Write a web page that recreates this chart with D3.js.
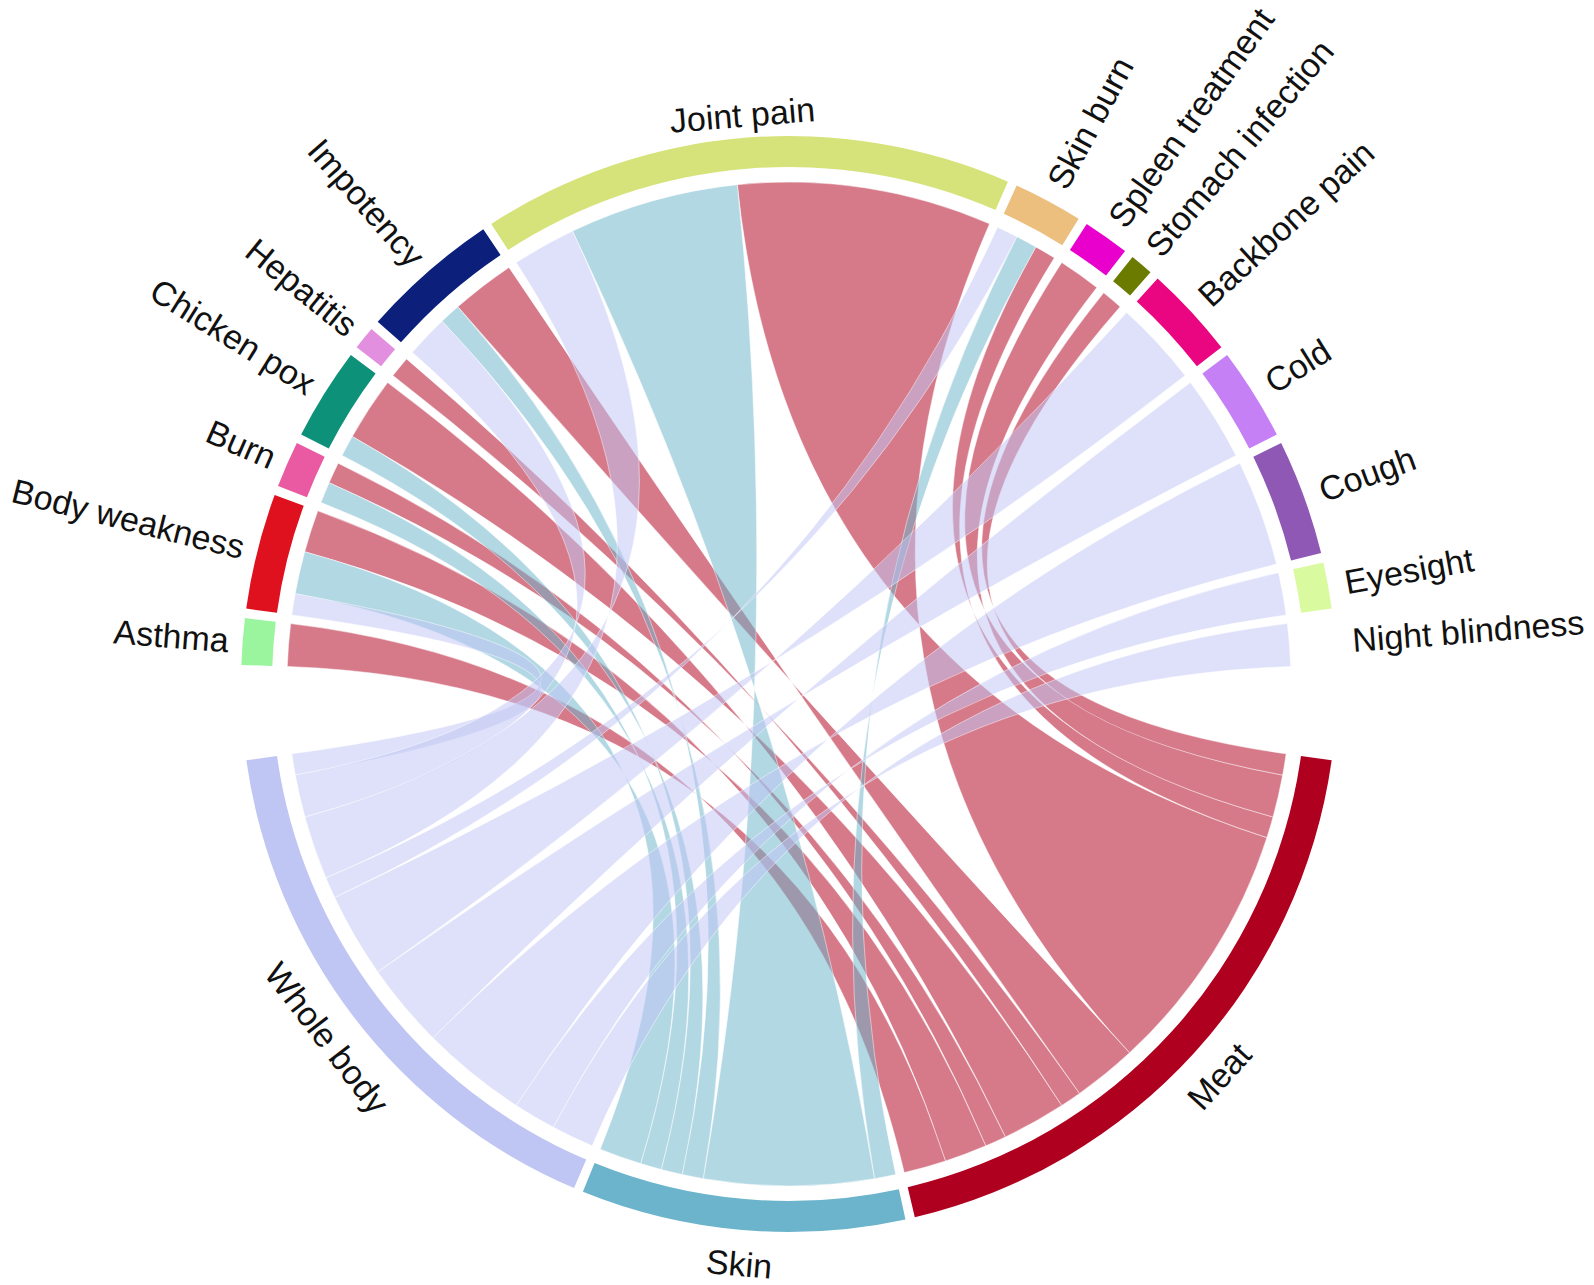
<!DOCTYPE html>
<html>
<head>
<meta charset="utf-8">
<script src="https://cdn.jsdelivr.net/npm/d3@7"></script>
<style>
  body { margin: 0; background: #fff; }
  text { font-family: "Liberation Sans", Arial, sans-serif; fill: #111; }
</style>
</head>
<body>
<svg id="svg1" width="1594" height="1285"></svg>
<script>
// diseases (rows) and plant parts (columns)
const diseases = ["Asthma", "Body weakness", "Burn", "Chicken pox", "Hepatitis", "Impotency",
  "Joint pain", "Skin burn", "Spleen treatment", "Stomach infection", "Backbone pain",
  "Cold", "Cough", "Eyesight", "Night blindness"];
const parts = ["Meat", "Skin", "Whole body"];

// number of uses per disease for each part
const meatCounts  = [2, 2, 1, 3, 1, 3, 12, 1, 2, 1, 0, 0, 0, 0, 0];
const skinCounts  = [0, 2, 1, 1, 0, 1, 8, 1, 0, 0, 0, 0, 0, 0, 0];
const wholeCounts = [0, 1, 0, 0, 0, 2, 3, 1, 0, 0, 4, 4, 5, 2, 2];

const diseaseColors = ["#9af59e", "#e0111f", "#ea5aa2", "#0e9179", "#e38fe0", "#0b1f7b",
  "#d6e37a", "#ecbf7e", "#ea00cc", "#6b7b00", "#ea0680", "#c680f5", "#9058b5", "#dafaa0", "#ffffff"];
const partColors = ["#b0001f", "#6cb4cc", "#c0c6f4"];

const svg1 = d3.select("#svg1");
const width1 = +svg1.attr("width");
const height1 = +svg1.attr("height");

const cx = 789, cy = 684;
const trackInner = 517, trackOuter = 548, linkRadius = 502;
const smallGap = 1, bigGap = 10, startDeg = 272;

const matrix = diseases.map((d, i) => [meatCounts[i], skinCounts[i], wholeCounts[i]]);
const rowTotals = matrix.map(r => d3.sum(r));
const colTotals = parts.map((p, j) => d3.sum(matrix, r => r[j]));
const total = d3.sum(rowTotals) + d3.sum(colTotals);

const sectors = diseases.map((name, i) => ({ name, color: diseaseColors[i], value: rowTotals[i], row: true, index: i }))
  .concat(parts.map((name, j) => ({ name, color: partColors[j], value: colTotals[j], row: false, index: j })));

const bigAfter = ["Night blindness", "Whole body"];
const gapTotal = (sectors.length - 2) * smallGap + 2 * bigGap;

/* units -> degrees, degrees -> radians */
const unitScale = d3.scaleLinear().domain([0, total]).range([0, 360 - gapTotal]);
const rad = d3.scaleLinear().domain([0, 360]).range([0, 2 * Math.PI]);

let pos = startDeg;
sectors.forEach(s => {
  s.start = pos;
  s.end = pos + unitScale(s.value);
  pos = s.end + (bigAfter.includes(s.name) ? bigGap : smallGap);
});

// slot each link inside its two sectors (reverse order, as circlize does)
const rowSeg = matrix.map(r => r.map(() => null));
const colSeg = matrix.map(r => r.map(() => null));
sectors.forEach(s => {
  let c = s.start;
  if (s.row) {
    [2, 1, 0].forEach(j => {
      const v = matrix[s.index][j];
      if (v > 0) { rowSeg[s.index][j] = [c, c + unitScale(v)]; c += unitScale(v); }
    });
  } else {
    d3.range(diseases.length - 1, -1, -1).forEach(i => {
      const v = matrix[i][s.index];
      if (v > 0) { colSeg[i][s.index] = [c, c + unitScale(v)]; c += unitScale(v); }
    });
  }
});

const links = [];
matrix.forEach((r, i) => r.forEach((v, j) => {
  if (v > 0) links.push({
    s0: rad(rowSeg[i][j][0]), s1: rad(rowSeg[i][j][1]),
    t0: rad(colSeg[i][j][0]), t1: rad(colSeg[i][j][1]),
    color: partColors[j]
  });
}));

/* ribbon: start joins start and end joins end, curves pulled through the centre */
const px = t => linkRadius * Math.sin(t);
const py = t => -linkRadius * Math.cos(t);
const hp = Math.PI / 2;
const ribbonPath = d => {
  const p = d3.path();
  p.moveTo(px(d.s0), py(d.s0));
  p.arc(0, 0, linkRadius, d.s0 - hp, d.s1 - hp);
  p.quadraticCurveTo(0, 0, px(d.t1), py(d.t1));
  p.arc(0, 0, linkRadius, d.t1 - hp, d.t0 - hp, true);
  p.quadraticCurveTo(0, 0, px(d.s0), py(d.s0));
  p.closePath();
  return p.toString();
};

const a = svg1.append("g")
  .attr("transform", `translate(${cx}, ${cy})`);

/* links */
a.append("g").selectAll("path").data(links)
  .enter().append("path")
    .attr("d", ribbonPath)
    .attr("fill", d => d.color)
    .attr("fill-opacity", 0.52)
    .attr("stroke", "#fff")
    .attr("stroke-width", 0.8)
    .attr("stroke-opacity", 0.6);

/* outer track */
const arc = d3.arc().innerRadius(trackInner).outerRadius(trackOuter);
a.append("g").selectAll("path").data(sectors)
  .enter().append("path")
    .attr("d", d => arc({ startAngle: rad(d.start), endAngle: rad(d.end) }))
    .attr("fill", d => d.color);

/* labels: big sectors bend along the circle, small ones face outward */
const bending = ["Joint pain", "Meat", "Skin", "Whole body"];
a.append("g").selectAll("text").data(sectors)
  .enter().append("text")
    .attr("font-size", 34)
    .attr("dominant-baseline", "central")
    .attr("text-anchor", d => {
      if (bending.includes(d.name)) return "middle";
      const m = ((d.start + d.end) / 2) % 360;
      return m < 180 ? "start" : "end";
    })
    .attr("transform", d => {
      const m = ((d.start + d.end) / 2) % 360;
      const t = rad(m);
      let r, rot;
      if (bending.includes(d.name)) {
        const top = m > 270 || m < 90;
        r = top ? 571 : 582;
        rot = top ? m : m - 180;
      } else {
        r = m < 180 ? 565 : 562;
        rot = m < 180 ? m - 90 : m - 270;
      }
      const x = r * Math.sin(t), y = -r * Math.cos(t);
      return `translate(${x}, ${y}) rotate(${rot})`;
    })
    .text(d => d.name);
</script>
</body>
</html>
